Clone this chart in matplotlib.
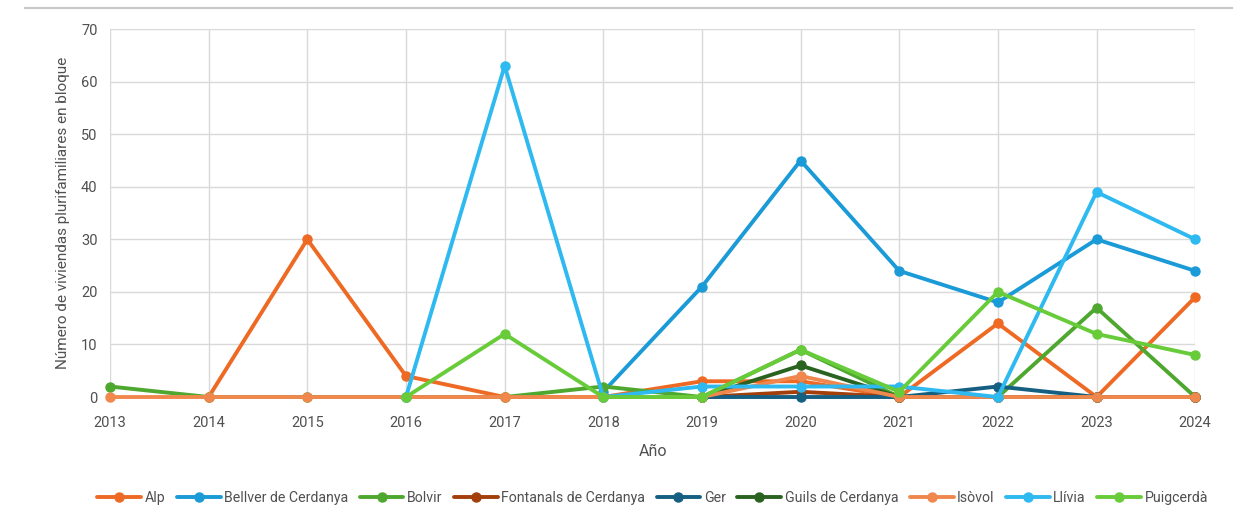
import numpy as np
import matplotlib.pyplot as plt
from matplotlib.lines import Line2D

nan = np.nan
years = list(range(2013, 2025))

alp = [nan, 0, 30, 4, 0, 0, 3, 3, 0, 14, 0, 19]
bellver = [nan, nan, nan, nan, nan, 1, 21, 45, 24, 18, 30, 24]
bolvir = [2, 0, 0, 0, 0, 2, 0, 9, 0, 0, 17, 0]
fontanals = [nan, nan, nan, nan, nan, nan, 0, 1, 0, 0, 0, 0]
ger = [nan, nan, nan, nan, nan, nan, 0, 0, 0, 2, 0, 0]
guils = [nan, nan, nan, nan, nan, nan, 0, 6, 0, 0, 0, 0]
isovol = [0, 0, 0, 0, 0, 0, 0, 4, 0, 0, 0, 0]
llivia = [nan, nan, nan, 0, 63, 0, 2, 2, 2, 0, 39, 30]
puigcerda = [nan, nan, nan, 0, 12, 0, 0, 9, 1, 20, 12, 8]

series = [
    ("Alp", alp, "#EE6A24"),
    ("Bellver de Cerdanya", bellver, "#1A9AD6"),
    ("Bolvir", bolvir, "#4EA72E"),
    ("Fontanals de Cerdanya", fontanals, "#A23F0B"),
    ("Ger", ger, "#155F82"),
    ("Guils de Cerdanya", guils, "#2A6320"),
    ("Isòvol", isovol, "#F0884E"),
    ("Llívia", llivia, "#2EB9F0"),
    ("Puigcerdà", puigcerda, "#68CC3A"),
]

plt.rcParams['font.family'] = ['Roboto', 'DejaVu Sans']
txt = "#505050"

fig = plt.figure(figsize=(12.36, 5.2), dpi=100)
ax = fig.add_axes([0.089, 0.2365, 0.878, 0.7075])

for name, vals, col in series:
    ax.plot(years, vals, color=col, lw=2.8, marker='o', ms=6.5, label=name,
            solid_capstyle='round', clip_on=False)

ax.set_xlim(2013, 2024)
ax.set_ylim(0, 70)
ax.set_xticks(years)
ax.set_yticks(range(0, 71, 10))
ax.grid(True, color="#D9D9D9", lw=1)
ax.set_axisbelow(True)
for s in ax.spines.values():
    s.set_visible(False)
ax.tick_params(length=0, labelsize=10.5, colors=txt)
ax.tick_params(axis='x', pad=14)
ax.tick_params(axis='y', pad=9)
ax.set_xlabel("Año", fontsize=11.5, color=txt, labelpad=10)
ax.set_ylabel("Número de viviendas plurifamiliares en bloque", fontsize=11,
              color=txt, labelpad=8)

ax.legend(loc='upper center', bbox_to_anchor=(0.5, -0.22), ncol=9, frameon=False,
          fontsize=10.2, labelcolor=txt, handlelength=3.1, handletextpad=0.25,
          columnspacing=0.8)

fig.add_artist(Line2D([0.02, 0.997], [0.985, 0.985], color="#C8C8C8", lw=1.5))

fig.savefig("out.png", dpi=100)
